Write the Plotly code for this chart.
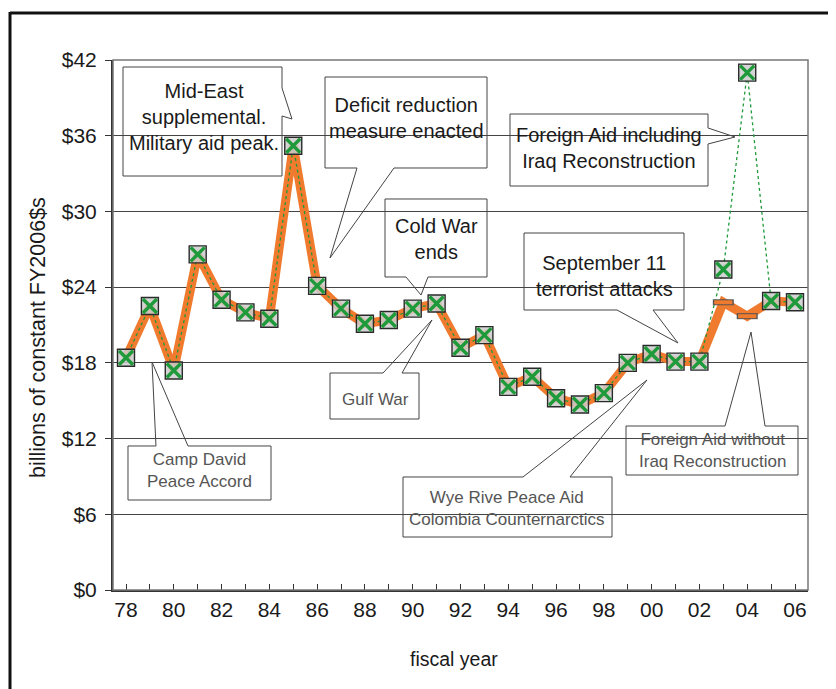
import plotly.graph_objects as go

# ---------------- data ----------------
years = list(range(1978, 2007))
year_labels = ["78", "", "80", "", "82", "", "84", "", "86", "", "88", "", "90", "", "92", "",
               "94", "", "96", "", "98", "", "00", "", "02", "", "04", "", "06"]
aid_without_iraq = [18.4, 22.5, 17.4, 26.6, 23.0, 22.0, 21.5, 35.2, 24.1, 22.3, 21.1, 21.4, 22.3, 22.7,
                    19.2, 20.2, 16.1, 16.9, 15.2, 14.7, 15.6, 18.0, 18.7, 18.1, 18.1, 22.8, 21.7, 22.9, 22.8]
aid_with_iraq = [18.4, 22.5, 17.4, 26.6, 23.0, 22.0, 21.5, 35.2, 24.1, 22.3, 21.1, 21.4, 22.3, 22.7,
                 19.2, 20.2, 16.1, 16.9, 15.2, 14.7, 15.6, 18.0, 18.7, 18.1, 18.1, 25.4, 41.0, 22.9, 22.8]
iraq_years = [2003, 2004]
iraq_without_vals = [22.8, 21.7]
y_ticks = [0, 6, 12, 18, 24, 30, 36, 42]
y_tick_labels = ["$0", "$6", "$12", "$18", "$24", "$30", "$36", "$42"]

# ---------------- layout geometry (reference pixels) ----------------
W, H = 836, 689
OFF = 8  # page body margin
L, R, T, B = 113, 808, 60, 590

def px(x):
    return (x - L) / (R - L)

def py(y):
    return (B - y) / (B - T)

ORANGE = "#F07A2E"
GREEN = "#1F9A3A"
FONT = "Arial, Liberation Sans, sans-serif"

fig = go.Figure()

fig.add_trace(go.Scatter(x=years, y=aid_without_iraq, mode="lines",
                         line=dict(color=ORANGE, width=9), hoverinfo="skip"))
fig.add_trace(go.Scatter(x=years, y=aid_with_iraq, mode="lines",
                         line=dict(color=GREEN, width=1.3, dash="dot"), hoverinfo="skip"))
fig.add_trace(go.Scatter(x=iraq_years, y=iraq_without_vals, mode="markers",
                         marker=dict(symbol="line-ew", size=15, line=dict(color="#555", width=6))))
fig.add_trace(go.Scatter(x=iraq_years, y=iraq_without_vals, mode="markers",
                         marker=dict(symbol="line-ew", size=13, line=dict(color=ORANGE, width=4))))
fig.add_trace(go.Scatter(x=years, y=aid_with_iraq, mode="markers",
                         marker=dict(symbol="square", size=17, color="rgba(205,205,205,0.85)",
                                     line=dict(color="#2a2a2a", width=1.4))))
fig.add_trace(go.Scatter(x=years, y=aid_with_iraq, mode="markers",
                         marker=dict(symbol="x-thin", size=14, line=dict(color=GREEN, width=3.4))))

# ---------------- callouts ----------------
callouts = [
    dict(box=(123, 67, 282, 176), side="right", a=88, b=116, tip=(292, 119),
         text="Mid-East<br>supplemental.<br>Military aid peak.", c=(204, 117), big=True),
    dict(box=(325, 77, 487, 168), side="bottom", a=394, b=357, tip=(330, 258),
         text="Deficit reduction<br>measure enacted", c=(406, 118), big=True),
    dict(box=(510, 114, 708, 186), side="right", a=128, b=144, tip=(735, 137),
         text="Foreign Aid including<br>Iraq Reconstruction", c=(609, 148), big=True),
    dict(box=(385, 199, 487, 277), side="bottom", a=428, b=406, tip=(421, 295),
         text="Cold War<br>ends", c=(436, 239), big=True),
    dict(box=(524, 233, 684, 310), side="bottom", a=653, b=617, tip=(678, 343),
         text="September 11<br>terrorist attacks", c=(604, 276), big=True),
    dict(box=(128, 446, 271, 500), side="top", a=156, b=188, tip=(152, 362),
         text="Camp David<br>Peace Accord", c=(199, 471), big=False),
    dict(box=(330, 373, 419, 419), side="top", a=383, b=402, tip=(432, 320),
         text="Gulf War", c=(375, 399), big=False),
    dict(box=(403, 477, 612, 537), side="top", a=523, b=570, tip=(647, 380),
         text="Wye Rive Peace Aid<br>Colombia Counternarctics", c=(507, 508), big=False),
    dict(box=(626, 426, 798, 475), side="top", a=725, b=765, tip=(751, 332),
         text="Foreign Aid without<br>Iraq Reconstruction", c=(712, 450), big=False),
]

def P(x, y):
    return f"{px(x):.5f},{py(y):.5f}"

shapes = []
annotations = []
for c in callouts:
    x0, y0, x1, y1 = c["box"]
    a, b = c["a"], c["b"]
    tx, ty = c["tip"]
    if c["side"] == "top":
        pts = [(x0, y0), (a, y0), (tx, ty), (b, y0), (x1, y0), (x1, y1), (x0, y1)]
    elif c["side"] == "bottom":
        pts = [(x0, y0), (x1, y0), (x1, y1), (a, y1), (tx, ty), (b, y1), (x0, y1)]
    else:  # right
        pts = [(x0, y0), (x1, y0), (x1, a), (tx, ty), (x1, b), (x1, y1), (x0, y1)]
    path = "M " + " L ".join(P(x, y) for x, y in pts) + " Z"
    shapes.append(dict(type="path", path=path, xref="paper", yref="paper",
                       fillcolor="white", line=dict(color="#444", width=1), layer="between"))
    annotations.append(dict(x=px(c["c"][0]), y=py(c["c"][1]), xref="paper", yref="paper",
                            text=c["text"], showarrow=False, xanchor="center", yanchor="middle",
                            font=dict(family=FONT, size=20 if c["big"] else 17,
                                      color="#1a1a1a" if c["big"] else "#555")))

# plot frame and outer figure frame
shapes.append(dict(type="rect", xref="paper", yref="paper", x0=0, y0=0, x1=1, y1=1,
                   line=dict(color="#777", width=1.5), layer="above"))
shapes.append(dict(type="line", xref="paper", yref="paper", x0=px(10), y0=py(13), x1=px(W + 5), y1=py(13),
                   line=dict(color="#111", width=3), layer="above"))
shapes.append(dict(type="line", xref="paper", yref="paper", x0=px(10), y0=py(12), x1=px(10), y1=py(H + 5),
                   line=dict(color="#111", width=3), layer="above"))

annotations.append(dict(x=px(38), y=py(338), xref="paper", yref="paper", text="billions of constant FY2006$s",
                        showarrow=False, textangle=-90, xanchor="center", yanchor="middle",
                        font=dict(family=FONT, size=21.5, color="#1a1a1a")))
annotations.append(dict(x=px(454), y=py(659), xref="paper", yref="paper", text="fiscal year",
                        showarrow=False, xanchor="center", yanchor="middle",
                        font=dict(family=FONT, size=19.5, color="#1a1a1a")))

fig.update_layout(
    width=W - OFF, height=H - OFF,
    margin=dict(l=L - OFF, r=W - R, t=T - OFF, b=H - B, pad=0),
    paper_bgcolor="white", plot_bgcolor="white",
    showlegend=False,
    shapes=shapes, annotations=annotations,
    font=dict(family=FONT, size=20, color="#1a1a1a"),
)
fig.update_xaxes(range=[1977.456, 2006.544], tickvals=years, ticktext=year_labels,
                 ticks="inside", ticklen=6, tickcolor="#333", tickwidth=1,
                 showline=True, linecolor="#333", linewidth=2, showgrid=False, zeroline=False,
                 tickfont=dict(family=FONT, size=21, color="#1a1a1a"), ticklabelstandoff=0)
fig.update_yaxes(range=[0, 42], tickvals=y_ticks, ticktext=y_tick_labels,
                 ticks="outside", ticklen=6, tickcolor="#333", tickwidth=1,
                 showline=True, linecolor="#333", linewidth=2,
                 showgrid=True, gridcolor="#444", gridwidth=1, zeroline=False,
                 tickfont=dict(family=FONT, size=21, color="#1a1a1a"), ticklabelstandoff=4)

fig.write_html("out.html")
